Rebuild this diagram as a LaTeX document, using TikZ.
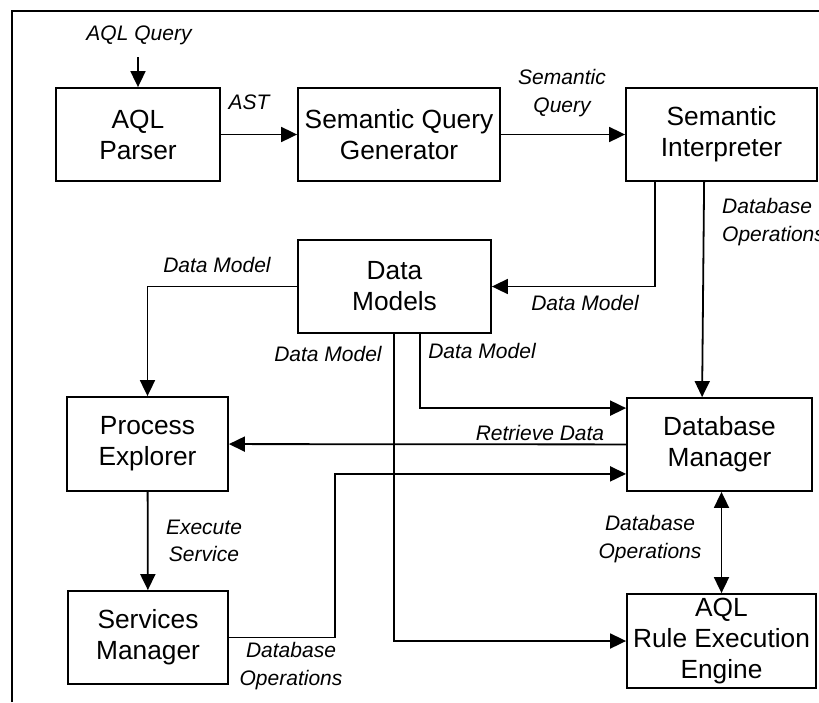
\documentclass[tikz,border=0pt]{standalone}
\usepackage{fontspec}
\setmainfont{Liberation Sans}
\usetikzlibrary{arrows.meta, calc}

\begin{document}
\begin{tikzpicture}[x=1pt, y=-1pt,
    block/.style={draw, line width=1.8pt, align=center, inner sep=0pt,
      font=\fontsize{26.3}{31}\selectfont},
    lbl/.style={align=center, inner sep=0pt, font=\fontsize{21}{27.5}\selectfont\itshape},
    arr/.style={line width=1.8pt, -{Triangle[length=16pt, width=15pt]}},
    biarr/.style={line width=1.8pt, {Triangle[length=16pt, width=15pt]}-{Triangle[length=16pt, width=15pt]}}]

    \useasboundingbox (0,0) rectangle (819,702);

    % Frame, only its top and left edges show
    \draw[line width=2pt] (12,702) -- (12,11) -- (819,11);

    % Blocks, placed by their centres
    \node[block, minimum width=164pt, minimum height=93pt] (parser) at (138,134.5) {AQL\\Parser};
    \node[block, minimum width=202pt, minimum height=93pt] (sqg) at (399,134.5) {Semantic Query\\Generator};
    \node[block, minimum width=191pt, minimum height=93pt] (si) at (721.5,134.5) {Semantic\\Interpreter};
    \node[block, minimum width=193pt, minimum height=93pt] (dm) at (394.5,286.5) {Data\\Models};
    \node[block, minimum width=161pt, minimum height=94pt] (pe) at (147.5,444) {Process\\Explorer};
    \node[block, minimum width=185pt, minimum height=93pt] (dbm) at (719.5,444.5) {Database\\Manager};
    \node[block, minimum width=160pt, minimum height=93pt] (sm) at (148,637.5) {Services\\Manager};
    \node[block, minimum width=189pt, minimum height=94pt] (rule) at (721.5,641) {AQL\\Rule Execution\\Engine};

    % Input query
    \node[lbl] (querylbl) at (139,35) {AQL Query};
    \coordinate (queryin) at (138,57);
    \draw[arr] (queryin) -- (parser.north);

    % Top row
    \draw[arr] (parser) -- (sqg);
    \node[lbl] (astlbl) at (249,102) {AST};
    \draw[arr] (sqg) -- (si);
    \node[lbl] (sqlbl) at (562,93) {Semantic\\Query};

    % From the interpreter
    \draw[arr] ($(si.south west)+(30,0)$) |- (dm.east);
    \node[lbl] (dmlbl1) at (585,303) {Data Model};
    \draw[arr] ($(si.south west)+(79,0)$) -- ($(dbm.north west)+(76,0)$);
    \node[lbl, anchor=west, align=left] (dblbl1) at (722,222) {Database\\Operations};

    % From the data models
    \draw[arr] (dm.west) -| (pe.north);
    \node[lbl] (dmlbl2) at (217,265) {Data Model};
    \draw[arr] ($(dm.south west)+(97,0)$) |- (rule.west);
    \node[lbl] (dmlbl3) at (328,354) {Data Model};
    \draw[arr] ($(dm.south west)+(123,0)$) |- ($(dbm.north west)+(0,11)$);
    \node[lbl] (dmlbl4) at (482,351) {Data Model};

    % Database manager links
    \draw[arr] (dbm) -- (pe);
    \node[lbl] (retlbl) at (540,433) {Retrieve Data};
    \draw[arr] (sm.east) -- ++(106,0) |- ($(dbm.south west)+(0,-18)$);
    \node[lbl] (dblbl2) at (291,666) {Database\\Operations};
    \draw[biarr] (rule.north |- dbm.south) -- (rule.north);
    \node[lbl] (dblbl3) at (650,539) {Database\\Operations};

    % Explorer to services
    \draw[arr] (pe) -- (sm);
    \node[lbl] (execlbl) at (204,541) {Execute\\Service};
\end{tikzpicture}
\end{document}
